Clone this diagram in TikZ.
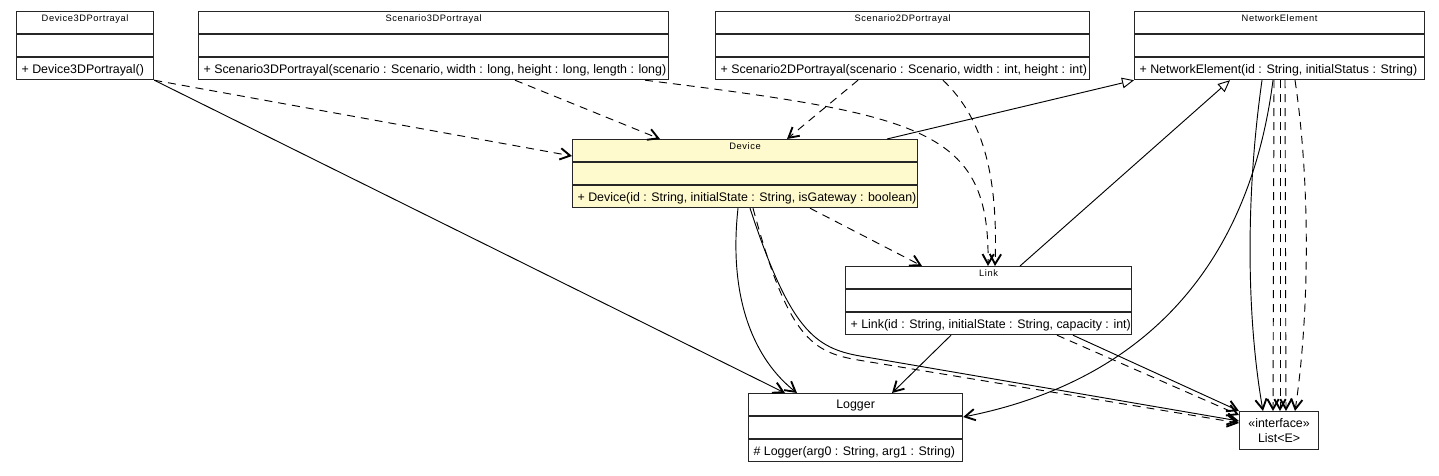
\documentclass[tikz,border=0pt]{standalone}
\usepackage{fontspec}
\setmainfont{Liberation Sans}
\newfontfamily\namefont[LetterSpace=6]{Liberation Sans}
\usetikzlibrary{arrows.meta, positioning, calc}
\definecolor{classfill}{RGB}{255,250,205}
\tikzstyle{classbox} = [rectangle, draw=black!85, line width=0.9pt, fill=white, inner sep=0pt, minimum height=51pt, anchor=north west]
\tikzstyle{divider} = [draw=black!85, line width=0.9pt]
\tikzstyle{classname} = [font=\namefont\fontsize{7}{8}\selectfont, inner sep=0pt]
\tikzstyle{method} = [font=\fontsize{9.3}{11}\selectfont, inner sep=0pt, text depth=0pt]
\tikzstyle{assoc} = [line width=0.7pt, -{Straight Barb[length=7.5pt, width=8.5pt, line width=1.4pt]}]
\tikzstyle{dep} = [assoc, dash pattern=on 6pt off 4.5pt]
\tikzstyle{inherit} = [line width=0.7pt, -{Triangle[open, length=9pt, width=8pt, fill=white]}]

\begin{document}
\begin{tikzpicture}[x=0.75pt, y=-0.75pt]
\useasboundingbox (0,0) rectangle (1439,475);

% classes
\node[classbox, minimum width=102.75pt] (d3d) at (16,11) {};
\node[classbox, minimum width=352.5pt] (s3d) at (198,11) {};
\node[classbox, minimum width=280.5pt] (s2d) at (715,11) {};
\node[classbox, minimum width=217.5pt] (netel) at (1134,11) {};
\node[classbox, minimum width=258.75pt, fill=classfill] (dev) at (572,139) {};
\node[classbox, minimum width=214.5pt] (link) at (845,266) {};
\node[classbox, minimum width=160.5pt] (logger) at (748,393) {};
\node[classbox, minimum width=59.25pt, minimum height=28.5pt, align=center, font=\fontsize{9.3}{11.5}\selectfont] (list) at (1239,411) {«interface»\\List<E>};

\draw[divider] (d3d.north west) ++(0,23) -- ++(137,0) ++(-137,23) -- ++(137,0);
\draw[divider] (s3d.north west) ++(0,23) -- ++(470,0) ++(-470,23) -- ++(470,0);
\draw[divider] (s2d.north west) ++(0,23) -- ++(374,0) ++(-374,23) -- ++(374,0);
\draw[divider] (netel.north west) ++(0,23) -- ++(290,0) ++(-290,23) -- ++(290,0);
\draw[divider] (dev.north west) ++(0,23) -- ++(345,0) ++(-345,23) -- ++(345,0);
\draw[divider] (link.north west) ++(0,23) -- ++(286,0) ++(-286,23) -- ++(286,0);
\draw[divider] (logger.north west) ++(0,23) -- ++(214,0) ++(-214,23) -- ++(214,0);

% names
\node[classname, below=2.5pt of d3d.north] (d3dname) {Device3DPortrayal};
\node[classname, below=2.5pt of s3d.north] (s3dname) {Scenario3DPortrayal};
\node[classname, below=2.5pt of s2d.north] (s2dname) {Scenario2DPortrayal};
\node[classname, below=2.5pt of netel.north] (netelname) {NetworkElement};
\node[classname, below=2.5pt of dev.north] (devname) {Device};
\node[classname, below=2.5pt of link.north] (linkname) {Link};
\node[method, below=5pt of logger.north] (loggername) {Logger};

% operations
\node[method, above right=5pt and 4pt of d3d.south west] (d3dop) {+ Device3DPortrayal()};
\node[method, above right=5pt and 4pt of s3d.south west] (s3dop) {+ Scenario3DPortrayal(scenario : Scenario, width : long, height : long, length : long)};
\node[method, above right=5pt and 4pt of s2d.south west] (s2dop) {+ Scenario2DPortrayal(scenario : Scenario, width : int, height : int)};
\node[method, above right=5pt and 4pt of netel.south west] (netelop) {+ NetworkElement(id : String, initialStatus : String)};
\node[method, above right=5pt and 4pt of dev.south west] (devop) {+ Device(id : String, initialState : String, isGateway : boolean)};
\node[method, above right=5pt and 4pt of link.south west] (linkop) {+ Link(id : String, initialState : String, capacity : int)};
\node[method, above right=5pt and 4pt of logger.south west] (loggerop) {\# Logger(arg0 : String, arg1 : String)};

% connectors
\draw[dep] (d3d.south east) -- ($(dev.north west)+(0,17)$);
\draw[assoc] (d3d.south east) -- ($(logger.north west)+(37,0)$);
\draw[dep] ($(s3d.south west)+(317,0)$) -- ($(dev.north west)+(88,0)$);
\draw[dep] ($(s3d.south west)+(447,0)$) .. controls (925,115) and (990,130) .. ($(link.north west)+(143,0)$);
\draw[dep] ($(s2d.south west)+(143,0)$) -- ($(dev.north west)+(215,0)$);
\draw[dep] ($(s2d.south west)+(228,0)$) .. controls (985,120) and (998,180) .. ($(link.north west)+(150,0)$);
\draw[inherit] ($(dev.north west)+(315,0)$) -- (netel.south west);
\draw[inherit] ($(link.north west)+(175,0)$) -- ($(netel.south west)+(96,0)$);
\draw[dep] ($(dev.south west)+(238,0)$) -- ($(link.north west)+(77,0)$);
\draw[assoc] ($(dev.south west)+(166,0)$) .. controls (728,300) and (755,360) .. ($(logger.north west)+(49,0)$);
\draw[assoc] ($(dev.south west)+(178,0)$) .. controls (790,330) and (815,348) .. (860,356) -- ($(list.north west)+(0,10)$);
\draw[dep] ($(dev.south west)+(181,0)$) .. controls (788,338) and (812,352) .. (858,360) -- ($(list.north west)+(0,12)$);
\draw[assoc] ($(link.south west)+(106,0)$) -- ($(logger.north west)+(144,0)$);
\draw[assoc] ($(link.south west)+(228,0)$) -- (list.north west);
\draw[dep] ($(link.south west)+(212,0)$) -- ($(list.north west)+(0,4)$);
\draw[assoc] ($(netel.south west)+(139,0)$) .. controls (1250,260) and (1150,380) .. ($(logger.north east)+(0,24)$);
\draw[assoc] ($(netel.south west)+(128,0)$) .. controls (1245,200) and (1247,320) .. ($(list.north west)+(24,0)$);
\draw[dep] ($(netel.south west)+(140,0)$) -- ($(list.north west)+(34,0)$);
\draw[dep] ($(netel.south west)+(146,0)$) -- ($(list.north west)+(41,0)$);
\draw[dep] ($(netel.south west)+(151,0)$) -- ($(list.north west)+(47,0)$);
\draw[dep] ($(netel.south west)+(161,0)$) .. controls (1310,180) and (1310,310) .. ($(list.north west)+(56,0)$);

\end{tikzpicture}
\end{document}
